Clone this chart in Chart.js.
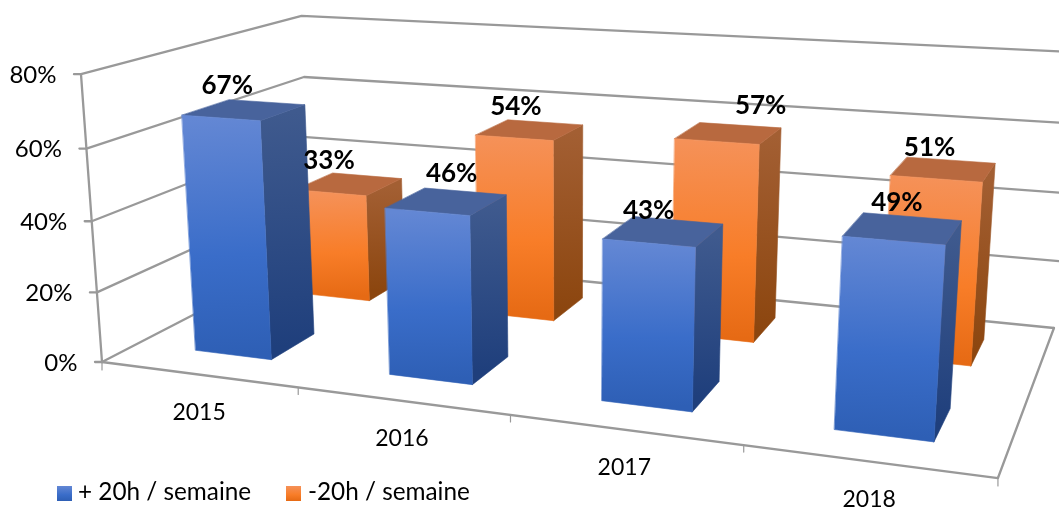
<!DOCTYPE html>
<html>
<head>
<meta charset="utf-8">
<style>html,body{margin:0;padding:0;background:#fff;overflow:hidden}canvas{display:block}</style>
<script src="https://cdn.jsdelivr.net/npm/chart.js@4"></script>
</head>
<body>
<canvas id="c" width="1059" height="507"></canvas>
<script>
// ---- data ----
const categories = ['2015', '2016', '2017', '2018'];
const seriesNames = ['+ 20h / semaine', '-20h / semaine'];
const over20h = [67, 46, 43, 49];
const under20h = [33, 54, 57, 51];
const axisMax = 80;
const axisStep = 20;

// ---- layout: perspective camera (maps u,w,v to the screen) ----
const H = { ax: 724.3, bx: 277.1, cx: 102, ay: 33.8, by: -52.4, cy: 362, g: -0.172, h: 0.2189, vx: -24.5, vy: -291, vd: -0.043 };
const rowCentre = [0.25, 0.75];
const depthHalf = 0.1025;
const uShift = 0.003;
const labelNudge = [[[-3, -1], [19, -5], [-1, 2], [8, -3]], [[-6, 0], [0, 0], [46, -5], [0, 1]]];
const legendBoxes = [[57, 78], [286, 308]];
const gridColour = '#999999';
const fontFamily = 'Lato, Carlito, sans-serif';

function project(u, w, v) {
  const d = H.g * u + H.h * w + 1 + H.vd * v;
  return { x: (H.ax * u + H.bx * w + H.cx + H.vx * v) / d, y: (H.ay * u + H.by * w + H.cy + H.vy * v) / d };
}
function poly(ctx, pts, fill) {
  ctx.beginPath();
  pts.forEach((p, i) => i ? ctx.lineTo(p.x, p.y) : ctx.moveTo(p.x, p.y));
  ctx.closePath();
  ctx.fillStyle = fill;
  ctx.strokeStyle = fill;
  ctx.lineWidth = 0.6;
  ctx.fill();
  ctx.stroke();
}
function grad(ctx, a, b, stops) {
  const g = ctx.createLinearGradient(a.x, a.y, b.x, b.y);
  stops.forEach(s => g.addColorStop(s[0], s[1]));
  return g;
}
const palette = [
  { front: [[0, '#6387d4'], [0.58, '#3a6dc9'], [1, '#2e5fb5']], side: [[0, '#3f5a8e'], [1, '#1f3f7c']], top: '#48639c' },
  { front: [[0, '#f59158'], [0.58, '#f87d28'], [1, '#e66a14']], side: [[0, '#a35f33'], [1, '#8c460f']], top: '#b8693f' }
];

const perspective = {
  id: 'perspective',
  afterDatasetsDraw(chart) {
    const ctx = chart.ctx, xs = chart.scales.x, ys = chart.scales.y;
    const U = px => (px - xs.left) / xs.width + uShift;
    const V = py => (ys.bottom - py) / ys.height;
    ctx.save();
    ctx.lineCap = 'round';
    ctx.lineJoin = 'round';
    const line = (pts, lw) => {
      ctx.beginPath();
      pts.forEach((p, i) => i ? ctx.lineTo(p.x, p.y) : ctx.moveTo(p.x, p.y));
      ctx.strokeStyle = gridColour;
      ctx.lineWidth = lw;
      ctx.stroke();
    };
    // walls, gridlines, value axis
    ys.ticks.forEach(t => {
      const v = V(ys.getPixelForValue(t.value));
      const a = project(0, 0, v), d = project(0, 1, v), c = project(1, 1, v);
      line([{ x: a.x - 7, y: a.y }, a, d, c], 2.3);
      ctx.fillStyle = '#000';
      ctx.font = '24px ' + fontFamily;
      ctx.textAlign = 'right';
      ctx.textBaseline = 'middle';
      ctx.fillText(t.label, a.x - 24.5, a.y + 1);
    });
    line([project(0, 0, 0), project(0, 0, 1)], 2.3);
    // floor
    line([project(0, 0, 0), project(1, 0, 0), project(1, 1, 0)], 2.3);
    // category ticks and labels
    categories.forEach((name, i) => {
      const u0 = U(xs.getPixelForValue(i)) - 0.5 / categories.length;
      const p = project(u0, 0, 0);
      if (i > 0) line([p, { x: p.x, y: p.y + 7 }], 1.2);
      else line([{ x: project(0, 0, 0).x, y: project(0, 0, 0).y }, { x: project(0, 0, 0).x, y: project(0, 0, 0).y + 8 }], 1.2);
      const cp = project(U(xs.getPixelForValue(i)), 0, 0);
      ctx.fillStyle = '#000';
      ctx.font = '23px ' + fontFamily;
      ctx.textAlign = 'center';
      ctx.textBaseline = 'middle';
      ctx.fillText(name, cp.x, cp.y + 38);
    });
    const e = project(1, 0, 0);
    line([e, { x: e.x, y: e.y + 8 }], 1.2);
    // bars: back row first, right to left
    const labels = [];
    [1, 0].forEach(ds => {
      const meta = chart.getDatasetMeta(ds);
      for (let i = meta.data.length - 1; i >= 0; i--) {
        const bar = meta.data[i], pal = palette[ds];
        const u0 = U(bar.x - bar.width / 2), u1 = U(bar.x + bar.width / 2);
        const w0 = rowCentre[ds] - depthHalf, w1 = rowCentre[ds] + depthHalf;
        const vb = V(bar.base), vt = V(bar.y);
        const fbl = project(u0, w0, vb), fbr = project(u1, w0, vb), ftl = project(u0, w0, vt), ftr = project(u1, w0, vt);
        const bbr = project(u1, w1, vb), btr = project(u1, w1, vt), btl = project(u0, w1, vt);
        const sf = grad(ctx, project(u1, (w0 + w1) / 2, vt), project(u1, (w0 + w1) / 2, vb), pal.side);
        poly(ctx, [ftr, btr, bbr, fbr], sf);
        poly(ctx, [ftl, ftr, btr, btl], pal.top);
        const mt = { x: (ftl.x + ftr.x) / 2, y: (ftl.y + ftr.y) / 2 };
        const mb = { x: (fbl.x + fbr.x) / 2, y: (fbl.y + fbr.y) / 2 };
        poly(ctx, [ftl, ftr, fbr, fbl], grad(ctx, mt, mb, pal.front));
        const c = project((u0 + u1) / 2, rowCentre[ds], vt);
        const n = labelNudge[ds][i];
        labels.push({ text: chart.data.datasets[ds].data[i] + '%', x: c.x - 14 + n[0], y: c.y - 23 + n[1] });
      }
    });
    // value labels on top of everything
    ctx.fillStyle = '#000';
    ctx.font = 'bold 26px ' + fontFamily;
    ctx.textAlign = 'center';
    ctx.textBaseline = 'middle';
    labels.forEach(l => ctx.fillText(l.text, l.x, l.y));
    // legend
    chart.data.datasets.forEach((d, ds) => {
      const [bx, tx] = legendBoxes[ds];
      const g = ctx.createLinearGradient(0, 486, 0, 501);
      palette[ds].front.forEach(s => g.addColorStop(s[0], s[1]));
      ctx.fillStyle = g;
      ctx.fillRect(bx, 486, 15, 15);
      ctx.fillStyle = '#000';
      ctx.font = '24.3px ' + fontFamily;
      ctx.textAlign = 'left';
      ctx.textBaseline = 'middle';
      ctx.fillText(d.label, tx, 492);
    });
    ctx.restore();
  }
};

new Chart(document.getElementById('c'), {
  type: 'bar',
  data: {
    labels: categories,
    datasets: [
      { label: seriesNames[0], data: over20h, backgroundColor: 'rgba(0,0,0,0)', grouped: false, barPercentage: 0.4, categoryPercentage: 1 },
      { label: seriesNames[1], data: under20h, backgroundColor: 'rgba(0,0,0,0)', grouped: false, barPercentage: 0.4, categoryPercentage: 1 }
    ]
  },
  options: {
    responsive: false,
    animation: false,
    layout: { padding: 0 },
    plugins: { legend: { display: false }, tooltip: { enabled: false } },
    scales: {
      x: { display: false, offset: true },
      y: { display: false, min: 0, max: axisMax, ticks: { stepSize: axisStep, callback: v => v + '%' } }
    }
  },
  plugins: [perspective]
});
</script>
</body>
</html>
